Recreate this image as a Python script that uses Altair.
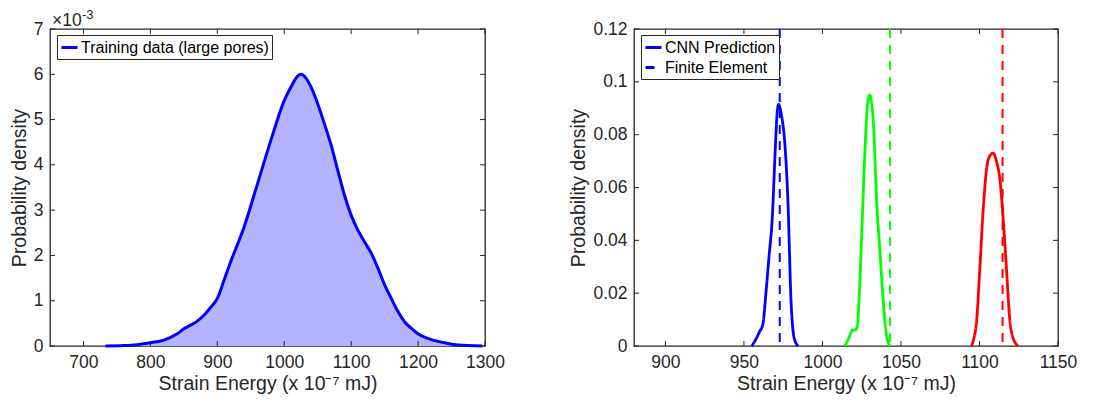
import altair as alt
import pandas as pd

# ---------------- data ----------------
# Left panel: training data density (values in 1e-3)
train_x = [733, 760, 780, 800, 820, 840, 850, 860, 870, 880, 890, 900, 910, 920, 940, 960,
           980, 1000, 1010, 1020, 1025, 1030, 1040, 1050, 1060, 1070, 1080, 1090, 1100,
           1110, 1120, 1130, 1140, 1150, 1160, 1170, 1180, 1190, 1200, 1220, 1240, 1260, 1296]
train_y = [0.0, 0.01, 0.03, 0.07, 0.13, 0.27, 0.38, 0.46, 0.55, 0.68, 0.85, 1.05, 1.45, 1.86,
           2.63, 3.58, 4.54, 5.42, 5.72, 5.96, 6.0, 5.96, 5.72, 5.35, 4.91, 4.44, 3.88, 3.33,
           2.89, 2.56, 2.3, 2.05, 1.72, 1.35, 1.05, 0.76, 0.53, 0.39, 0.27, 0.14, 0.07, 0.02, 0.0]
train_label = "Training data (large pores)"

# Right panel: CNN predicted densities for three samples
cnn1_x = [955, 958, 960, 962, 964, 966, 968, 970, 971, 972, 973, 974, 976, 978, 980, 982, 984.5]
cnn1_y = [0, 0.003, 0.0055, 0.008, 0.02, 0.034, 0.048, 0.075, 0.087, 0.0915, 0.09, 0.087,
          0.077, 0.055, 0.017, 0.003, 0]
cnn2_x = [1014.3, 1016, 1017.5, 1019, 1021, 1022.5, 1023.5, 1025, 1027, 1029, 1030.2, 1031,
          1032.3, 1034.5, 1036.6, 1038.7, 1040.8, 1043]
cnn2_y = [0, 0.002, 0.004, 0.006, 0.006, 0.009, 0.02, 0.042, 0.073, 0.093, 0.095, 0.093,
          0.086, 0.055, 0.036, 0.017, 0.004, 0]
cnn3_x = [1094.9, 1096.5, 1098.1, 1100.2, 1102.4, 1104.5, 1106.6, 1108.7, 1110.9, 1113,
          1115.1, 1117.2, 1119.3, 1121.4, 1123, 1124.6]
cnn3_y = [0, 0.003, 0.009, 0.029, 0.052, 0.067, 0.072, 0.073, 0.0697, 0.063, 0.048, 0.029,
          0.010, 0.003, 0.001, 0]
fe_x = [972.8, 1043, 1114.7]
samples = ["s1", "s2", "s3"]
sample_colors = ["#0000ff", "#00ff00", "#ff0000"]
kinds = ["CNN Prediction", "Finite Element"]

left_xticks = [700, 800, 900, 1000, 1100, 1200, 1300]
left_yticks = [0, 0.001, 0.002, 0.003, 0.004, 0.005, 0.006, 0.007]
right_xticks = [900, 950, 1000, 1050, 1100, 1150]
right_yticks = [0, 0.02, 0.04, 0.06, 0.08, 0.1, 0.12]

x_title = "Strain Energy (x 10\u207b\u2077 mJ)"
y_title = "Probability density"

# ---------------- tables ----------------
df_train = pd.DataFrame({"x": train_x, "y": [v * 1e-3 for v in train_y], "series": train_label})
rows = []
for s, xs, ys in zip(samples, [cnn1_x, cnn2_x, cnn3_x], [cnn1_y, cnn2_y, cnn3_y]):
    for a, b in zip(xs, ys):
        rows.append({"x": a, "y": b, "group": s, "kind": kinds[0]})
df_cnn = pd.DataFrame(rows)
df_fe = pd.DataFrame({"x": fe_x, "group": samples, "kind": kinds[1]})

FONT = "Liberation Sans"
AX = "#262626"
LW, RW, H = 435, 424, 317
TL = 5


def tick_layers(xvals, yvals, xs, ys, xa, ya, W):
    bx = alt.Chart(pd.DataFrame({"v": xvals})).mark_rule(color=AX, strokeWidth=1)
    by = alt.Chart(pd.DataFrame({"v": yvals})).mark_rule(color=AX, strokeWidth=1)
    return [
        bx.encode(x=alt.X("v:Q", scale=xs, axis=xa), y=alt.value(H), y2=alt.value(H - TL)),
        bx.encode(x=alt.X("v:Q", scale=xs, axis=xa), y=alt.value(0), y2=alt.value(TL)),
        by.encode(y=alt.Y("v:Q", scale=ys, axis=ya), x=alt.value(0), x2=alt.value(TL)),
        by.encode(y=alt.Y("v:Q", scale=ys, axis=ya), x=alt.value(W), x2=alt.value(W - TL)),
    ]


def legend_box(**extra):
    return alt.Legend(orient="none", legendX=7, legendY=6, title=None,
                      symbolType="stroke", symbolSize=256, symbolStrokeWidth=3,
                      labelFontSize=16, labelFont=FONT, labelColor="#000000",
                      labelLimit=0, labelOffset=2, padding=3, rowPadding=2,
                      strokeColor=AX, fillColor="#ffffff", **extra)


# ---------------- left panel ----------------
lxs = alt.Scale(domain=[650, 1300], nice=False, zero=False)
lys = alt.Scale(domain=[0, 0.007], nice=False)
lx_axis = alt.Axis(values=left_xticks, title=x_title, format="d")
ly_axis = alt.Axis(values=left_yticks, title=y_title, labelExpr="format(datum.value*1000, '~g')")

area = alt.Chart(df_train).mark_area(color="#b3b3ff", interpolate="monotone").encode(
    x=alt.X("x:Q", scale=lxs, axis=lx_axis),
    y=alt.Y("y:Q", scale=lys, axis=ly_axis),
)
line = alt.Chart(df_train).mark_line(strokeWidth=3, interpolate="monotone").encode(
    x=alt.X("x:Q", scale=lxs, axis=lx_axis),
    y=alt.Y("y:Q", scale=lys, axis=ly_axis),
    color=alt.Color("series:N", scale=alt.Scale(domain=[train_label], range=["#0000ff"]),
                    legend=legend_box()),
)
exp_df = pd.DataFrame({"t": ["\u00d710"], "s": ["-3"]})
exp_main = alt.Chart(exp_df).mark_text(align="left", baseline="alphabetic", fontSize=17.5,
                                      font=FONT, color=AX).encode(
    x=alt.value(2), y=alt.value(-3), text="t:N")
exp_sup = alt.Chart(exp_df).mark_text(align="left", baseline="alphabetic", fontSize=13,
                                     font=FONT, color=AX).encode(
    x=alt.value(32), y=alt.value(-10), text="s:N")

left = alt.layer(area, line, *tick_layers(left_xticks, left_yticks, lxs, lys, lx_axis, ly_axis, LW),
                 exp_main, exp_sup).properties(width=LW, height=H)

# ---------------- right panel ----------------
rxs = alt.Scale(domain=[880, 1150], nice=False, zero=False)
rys = alt.Scale(domain=[0, 0.12], nice=False)
rx_axis = alt.Axis(values=right_xticks, title=x_title, format="d")
ry_axis = alt.Axis(values=right_yticks, title=y_title, labelExpr="format(datum.value, '.2~f')")
col = alt.Color("group:N", scale=alt.Scale(domain=samples, range=sample_colors), legend=None)
dash = alt.StrokeDash("kind:N", scale=alt.Scale(domain=kinds, range=[[1, 0], [9, 7]]),
                      legend=legend_box(symbolStrokeColor="#0000ff"))

curves = alt.Chart(df_cnn).mark_line(strokeWidth=2.8, interpolate="monotone").encode(
    x=alt.X("x:Q", scale=rxs, axis=rx_axis),
    y=alt.Y("y:Q", scale=rys, axis=ry_axis),
    color=col, strokeDash=dash, detail="group:N",
)
fe_rules = alt.Chart(df_fe).mark_rule(strokeWidth=2).encode(
    x=alt.X("x:Q", scale=rxs, axis=rx_axis), color=col, strokeDash=dash,
)
right = alt.layer(curves, fe_rules,
                  *tick_layers(right_xticks, right_yticks, rxs, rys, rx_axis, ry_axis, RW)
                  ).properties(width=RW, height=H)

chart = alt.hconcat(left, right, spacing=62).resolve_scale(
    color="independent", strokeDash="independent"
).resolve_legend(color="independent", strokeDash="independent").properties(
    padding={"left": 0, "top": 0, "right": 0, "bottom": 0}, background="#ffffff"
).configure_view(stroke=AX, strokeWidth=1.3).configure_axis(
    grid=False, ticks=False, domain=False, labelFlush=False, labelOverlap=False,
    labelFont=FONT, labelFontSize=17.5, labelColor=AX, labelPadding=7,
    titleFont=FONT, titleFontSize=19.5, titleColor=AX, titleFontWeight="normal",
    titlePadding=4,
)

chart.save("out.html", embed_options={"renderer": "svg", "actions": False})
